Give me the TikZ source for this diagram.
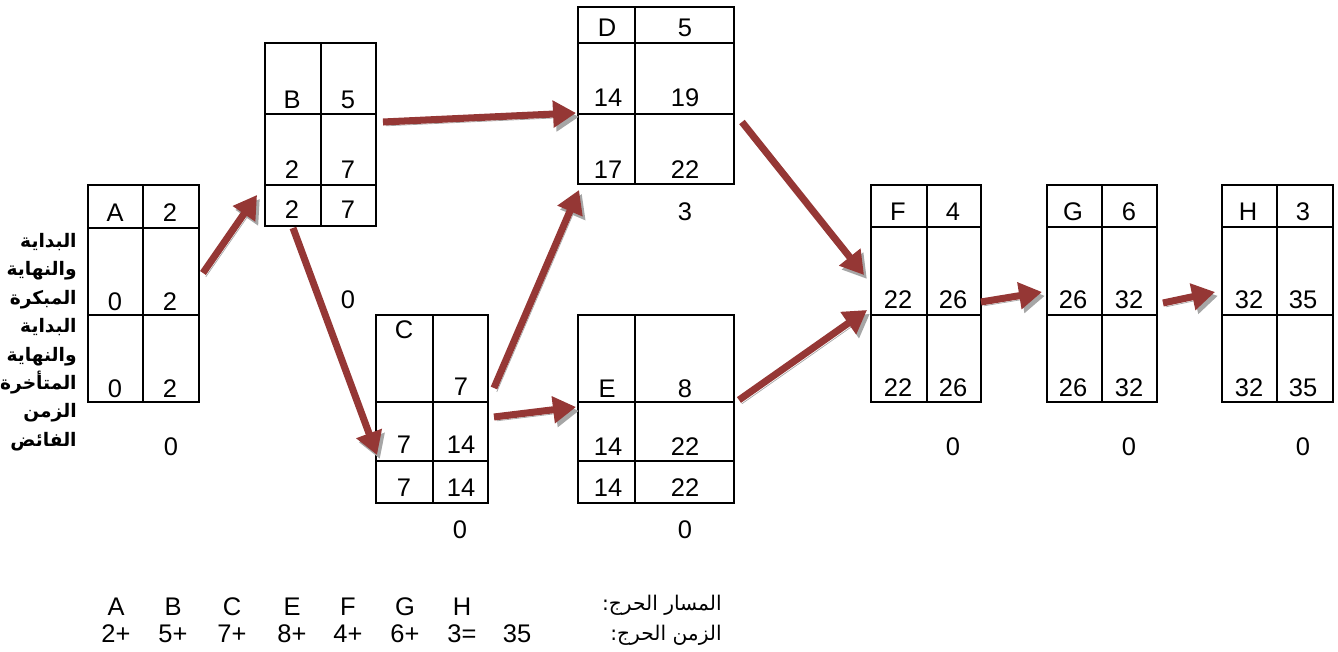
\documentclass[tikz,border=0pt]{standalone}
\usepackage{fontspec}
\setmainfont{Liberation Sans}
\newfontfamily\arabicfont[Script=Arabic]{DejaVu Sans}
\TeXXeTstate=1
\usetikzlibrary{arrows.meta, fit, calc}
\definecolor{crit-red}{HTML}{953735}
\definecolor{shade-grey}{HTML}{A6A6A6}

\begin{document}
\begin{tikzpicture}[
  x=0.02cm, y=-0.02cm,
  frame/.style={draw, line width=1.1pt, inner sep=0pt},
  grid/.style={line width=1.1pt},
  val/.style={font=\fontsize{14.5}{17}\selectfont, inner sep=0pt},
  sidelbl/.style={font=\fontsize{10.6}{16.2}\selectfont\arabicfont\bfseries,
                  align=right, inner sep=0pt},
  botlbl/.style={font=\fontsize{11.5}{15}\selectfont\arabicfont, inner sep=0pt},
  arr/.style={-{Triangle[length=0.46cm, width=0.52cm]}, line width=4pt, crit-red,
              preaction={draw=shade-grey, transform canvas={shift={(1.6pt,-2.2pt)}}}}
]
  \useasboundingbox (0,0) rectangle (1338,652);

  % activity boxes
  \node[frame, fit={(88,185) (199,402)}] (A) {};
  \draw[grid] (143,185) -- (143,402) (88,228) -- (199,228) (88,315) -- (199,315);
  \node[frame, fit={(265,43) (376,226)}] (B) {};
  \draw[grid] (321,43) -- (321,226) (265,114) -- (376,114) (265,185) -- (376,185);
  \node[frame, fit={(376,315) (488,503)}] (C) {};
  \draw[grid] (433,315) -- (433,503) (376,402) -- (488,402) (376,461) -- (488,461);
  \node[frame, fit={(578,7) (734,184)}] (D) {};
  \draw[grid] (635,7) -- (635,184) (578,43) -- (734,43) (578,114) -- (734,114);
  \node[frame, fit={(578,315) (734,503)}] (E) {};
  \draw[grid] (635,315) -- (635,503) (578,402) -- (734,402) (578,461) -- (734,461);
  \node[frame, fit={(871,185) (981,402)}] (F) {};
  \draw[grid] (927,185) -- (927,402) (871,227) -- (981,227) (871,315) -- (981,315);
  \node[frame, fit={(1047,185) (1157,402)}] (G) {};
  \draw[grid] (1102,185) -- (1102,402) (1047,227) -- (1157,227) (1047,315) -- (1157,315);
  \node[frame, fit={(1222,185) (1333,402)}] (H) {};
  \draw[grid] (1277,185) -- (1277,402) (1222,227) -- (1333,227) (1222,315) -- (1333,315);

  % cell values
  \foreach \v/\x/\y [count=\i] in {A/115/213, 2/170/213, 0/115/302, 2/170/302, 0/115/389, 2/170/389, 0/171/447}
    \node[val] (A-\i) at (\x,\y) {\v};
  \foreach \v/\x/\y [count=\i] in {B/292/100, 5/348/100, 2/292/170, 7/348/170, 2/292/210, 7/348/210, 0/348/300}
    \node[val] (B-\i) at (\x,\y) {\v};
  \foreach \v/\x/\y [count=\i] in {C/404/330, 7/461/387, 7/404/445, 14/461/445, 7/404/488, 14/461/488, 0/460/530}
    \node[val] (C-\i) at (\x,\y) {\v};
  \foreach \v/\x/\y [count=\i] in {D/607/28, 5/685/28, 14/608/98, 19/685/98, 17/608/170, 22/685/170, 3/685/212}
    \node[val] (D-\i) at (\x,\y) {\v};
  \foreach \v/\x/\y [count=\i] in {E/607/389, 8/685/389, 14/608/447, 22/685/447, 14/608/488, 22/685/488, 0/685/530}
    \node[val] (E-\i) at (\x,\y) {\v};
  \foreach \v/\x/\y [count=\i] in {F/898/212, 4/953/212, 22/898/300, 26/953/300, 22/898/388, 26/953/388, 0/953/447}
    \node[val] (F-\i) at (\x,\y) {\v};
  \foreach \v/\x/\y [count=\i] in {G/1073/212, 6/1129/212, 26/1073/300, 32/1129/300, 26/1073/388, 32/1129/388, 0/1129/447}
    \node[val] (G-\i) at (\x,\y) {\v};
  \foreach \v/\x/\y [count=\i] in {H/1248/212, 3/1303/212, 32/1249/300, 35/1303/300, 32/1249/388, 35/1303/388, 0/1303/447}
    \node[val] (H-\i) at (\x,\y) {\v};

  % row captions
  \node[sidelbl, anchor=east] (rows) at (77,342)
    {\beginR البداية\endR\\ \beginR والنهاية\endR\\ \beginR المبكرة\endR\\
     \beginR البداية\endR\\ \beginR والنهاية\endR\\ \beginR المتأخرة\endR\\
     \beginR الزمن\endR\\ \beginR الفائض\endR};

  % critical path arrows
  \draw[arr] ($(A.east)+(3,-20.5)$) -- ($(B.south west)+(-7,-32)$);
  \draw[arr] ($(B.east)+(6,-12.5)$) -- ($(D.west)+(-1,17.5)$);
  \draw[arr] ($(B.south)+(-27.5,1)$) -- ($(C.west)+(2,46)$);
  \draw[arr] ($(C.east)+(5,-21)$) -- ($(D.south west)+(2,5)$);
  \draw[arr] ($(C.east)+(5,8)$) -- ($(E.west)+(-1,-2)$);
  \draw[arr] ($(D.east)+(7,26.5)$) -- ($(F.west)+(-6,-18.5)$);
  \draw[arr] ($(E.east)+(4,-9)$) -- ($(F.west)+(-3,16.5)$);
  \draw[arr] ($(F.east)+(-1,8.5)$) -- ($(G.west)+(-4,-1.5)$);
  \draw[arr] ($(G.east)+(5,9.5)$) -- ($(H.west)+(-6,-1.5)$);

  % critical path summary
  \foreach \v/\x [count=\i] in {A/116, B/173, C/232, E/292, F/348, G/405, H/462}
    \node[val] (path-\i) at (\x,607) {\v};
  \foreach \v/\x [count=\i] in {2+/116, 5+/173, 7+/232, 8+/292, 4+/348, 6+/405, 3=/462, 35/517}
    \node[val] (time-\i) at (\x,634) {\v};
  \node[botlbl, anchor=east] (pathlbl) at (722,605) {\beginR المسار الحرج:\endR};
  \node[botlbl, anchor=east] (timelbl) at (722,635) {\beginR الزمن الحرج:\endR};
\end{tikzpicture}
\end{document}
